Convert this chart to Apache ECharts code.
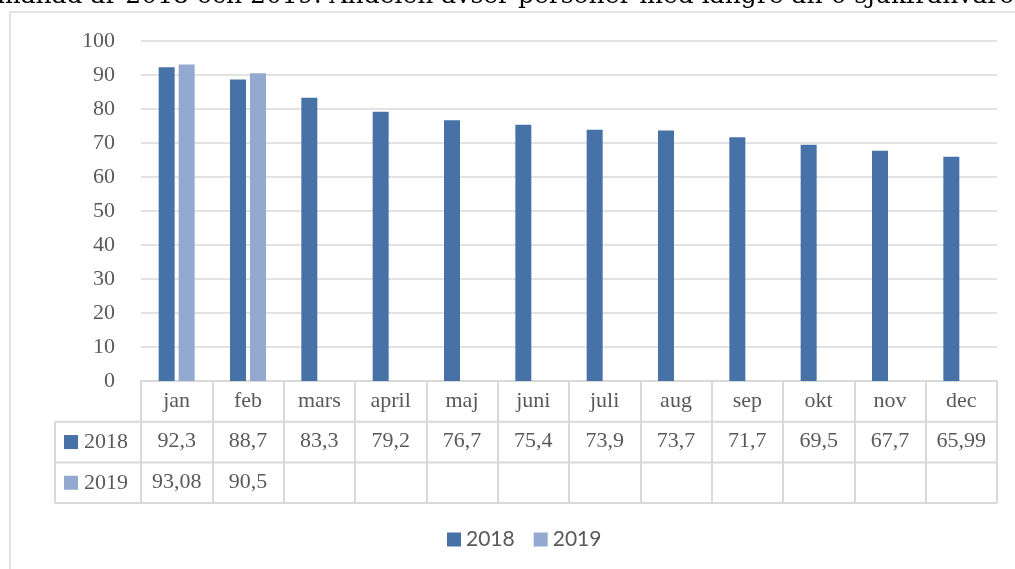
<!DOCTYPE html>
<html>
<head>
<meta charset="utf-8">
<script src="https://cdn.jsdelivr.net/npm/echarts@6/dist/echarts.min.js"></script>
<style>
  html, body { margin: 0; padding: 0; background: #fff; }
  #chart { width: 1015px; height: 569px; }
</style>
</head>
<body>
<div id="chart"></div>
<script>
// data
var months = ['jan', 'feb', 'mars', 'april', 'maj', 'juni', 'juli', 'aug', 'sep', 'okt', 'nov', 'dec'];
var values2018 = [92.3, 88.7, 83.3, 79.2, 76.7, 75.4, 73.9, 73.7, 71.7, 69.5, 67.7, 65.99];
var values2019 = [93.08, 90.5, null, null, null, null, null, null, null, null, null, null];
var yTicks = [0, 10, 20, 30, 40, 50, 60, 70, 80, 90, 100];

var seriesNames = ['2018', '2019'];
var colors = ['#4672A8', '#94A9D0'];

var serif = '"Liberation Serif", "DejaVu Serif", serif';
var textColor = '#595959';
var lineColor = '#d9d9d9';

// layout
var gridLeft = 141, gridRight = 18, gridTop = 41, gridBottom = 188;
var axisY = 569 - gridBottom;   // 381
var rowH = 40.7;
var tableLeft = 55;
var tableRight = 1015 - gridRight;

function fmt(v) {
    if (v === null || v === undefined) return '';
    return String(v).replace('.', ',');
}

var myChart = echarts.init(document.getElementById('chart'));

var graphics = [
    // cut-off caption above the chart box
    {
        type: 'text', x: -3, y: -4,
        style: {
            text: 'månad år 2018 och 2019. Andelen avser personer med längre än 6 sjukfrånvaro.',
            font: '25px "DejaVu Serif", serif', fill: '#000', verticalAlign: 'middle'
        }
    },
    // outer chart border
    {
        type: 'rect', shape: { x: 10, y: 12, width: 1100, height: 700 },
        style: { fill: 'none', stroke: lineColor, lineWidth: 1.5 }
    }
];

// data table lines
for (var r = 1; r <= 3; r++) {
    var y = axisY + r * rowH;
    graphics.push({
        type: 'line', shape: { x1: tableLeft, y1: y, x2: tableRight, y2: y },
        style: { stroke: lineColor, lineWidth: 2 }
    });
}
graphics.push({
    type: 'line', shape: { x1: tableLeft, y1: axisY + rowH, x2: tableLeft, y2: axisY + 3 * rowH },
    style: { stroke: lineColor, lineWidth: 2 }
});

// row headers (legend keys inside the table)
seriesNames.forEach(function (name, i) {
    var cy = axisY + (i + 1.5) * rowH;
    graphics.push({
        type: 'rect', shape: { x: 64, y: cy - 7, width: 14, height: 14 },
        style: { fill: colors[i] }
    });
    graphics.push({
        type: 'text', x: 84, y: cy,
        style: { text: name, font: '22px ' + serif, fill: textColor, verticalAlign: 'middle' }
    });
});

function tableAxis(vals, offset) {
    return {
        type: 'category',
        data: months,
        position: 'bottom',
        offset: offset,
        axisLine: { show: false },
        axisTick: { show: false },
        axisLabel: {
            interval: 0, margin: 9,
            fontFamily: serif, fontSize: 22, color: textColor,
            formatter: function (v, idx) { return fmt(vals[idx]); }
        }
    };
}

myChart.setOption({
    backgroundColor: '#fff',
    animation: false,
    color: colors,
    grid: { left: gridLeft, right: gridRight, top: gridTop, bottom: gridBottom, containLabel: false },
    legend: {
        data: seriesNames,
        left: 442, top: 524,
        itemWidth: 14, itemHeight: 14, itemGap: 19,
        icon: 'rect',
        textStyle: { fontFamily: 'Lato, "Open Sans", sans-serif', fontSize: 21, color: textColor }
    },
    xAxis: [
        {
            type: 'category',
            data: months,
            axisLine: { lineStyle: { color: lineColor, width: 2 } },
            axisTick: { show: true, interval: 0, length: 3 * rowH, lineStyle: { color: lineColor, width: 2 } },
            axisLabel: { interval: 0, margin: 9, fontFamily: serif, fontSize: 22, color: textColor }
        },
        tableAxis(values2018, 40),
        tableAxis(values2019, 81)
    ],
    yAxis: {
        type: 'value',
        min: yTicks[0], max: yTicks[yTicks.length - 1], interval: 10,
        axisLine: { show: false },
        axisTick: { show: false },
        axisLabel: { margin: 26, fontFamily: serif, fontSize: 22, color: textColor },
        splitLine: { lineStyle: { color: lineColor, width: 1.5 } }
    },
    series: [
        { name: seriesNames[0], type: 'bar', data: values2018, barWidth: 16, barGap: '25%' },
        { name: seriesNames[1], type: 'bar', data: values2019, barWidth: 16, barGap: '25%' }
    ],
    graphic: graphics
});
</script>
</body>
</html>
